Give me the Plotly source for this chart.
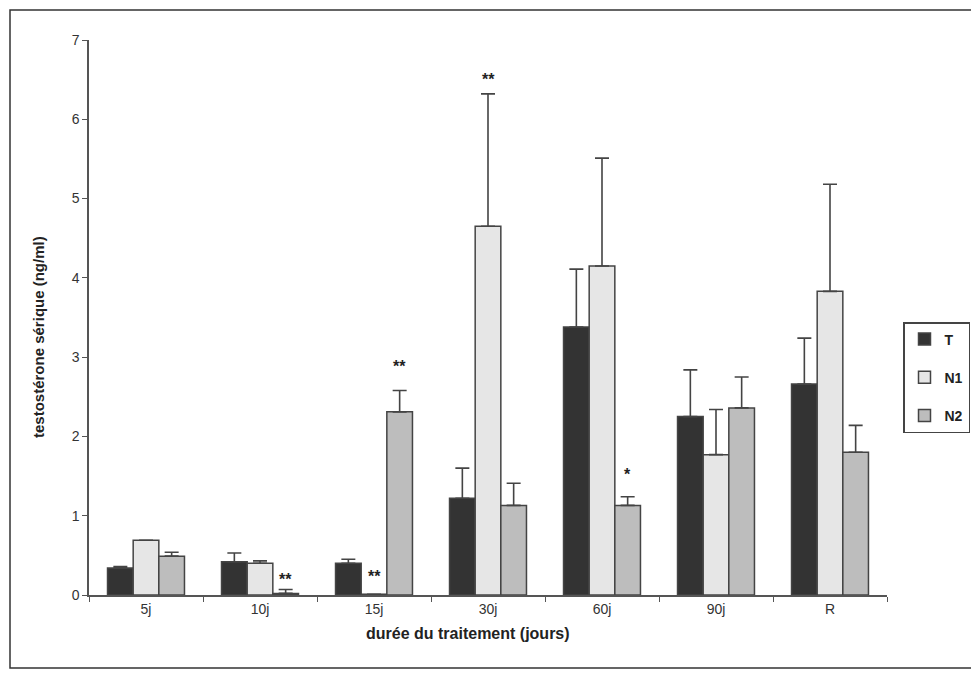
import plotly.graph_objects as go

categories = ["5j", "10j", "15j", "30j", "60j", "90j", "R"]
series_names = ["T", "N1", "N2"]
T_values = [0.34, 0.42, 0.40, 1.22, 3.38, 2.25, 2.66]
T_errors = [0.02, 0.11, 0.05, 0.38, 0.73, 0.59, 0.58]
N1_values = [0.69, 0.40, 0.01, 4.65, 4.15, 1.77, 3.83]
N1_errors = [0.0, 0.03, 0.0, 1.67, 1.36, 0.57, 1.35]
N2_values = [0.49, 0.02, 2.31, 1.13, 1.13, 2.36, 1.80]
N2_errors = [0.05, 0.05, 0.27, 0.28, 0.11, 0.39, 0.34]
colors = ["#333333", "#e6e6e6", "#bdbdbd"]

# significance marks: (category index, series index, y position, text)
sig_cat = [1, 2, 2, 3, 4]
sig_series = [2, 1, 2, 1, 2]
sig_y = [0.19, 0.23, 2.88, 6.5, 1.52]
sig_text = ["**", "**", "**", "**", "*"]

values = [T_values, N1_values, N2_values]
errors = [T_errors, N1_errors, N2_errors]

# page offset (body margin) compensation
OFF = 8
W, H = 979 - OFF, 679 - OFF
PL, PR, PT, PB = 89, 887, 40, 595  # plot area in page pixels
pw, ph = PR - PL, PB - PT

def px(x):
    return (x - PL) / pw

def py(y):
    return (PB - y) / ph

fig = go.Figure()
for i, name in enumerate(series_names):
    fig.add_trace(go.Bar(
        x=categories, y=values[i], name=name,
        legendgroup=name,
        marker=dict(color=colors[i], line=dict(color="#444444", width=1.5)),
        error_y=dict(type="data", array=errors[i], arrayminus=[0]*len(categories),
                     symmetric=False, color="#444444", thickness=1.6, width=7),
    ))

bargap = 0.325
bw = (1 - bargap) / 3
for c, s, y, t in zip(sig_cat, sig_series, sig_y, sig_text):
    fig.add_annotation(x=c + (s - 1) * bw, y=y, text="<b>" + t + "</b>", showarrow=False,
                       xref="x", yref="y", xanchor="center", yanchor="middle",
                       font=dict(family="Arial, Liberation Sans", size=16, color="#222222"))

fig.add_annotation(text="<b>testostérone sérique (ng/ml)</b>", textangle=-90,
                   xref="paper", yref="paper", x=px(38), y=py(337),
                   xanchor="center", yanchor="middle", showarrow=False,
                   font=dict(family="Arial, Liberation Sans", size=15, color="#222222"))
fig.add_annotation(text="<b>durée du traitement (jours)</b>",
                   xref="paper", yref="paper", x=px(468), y=py(633),
                   xanchor="center", yanchor="middle", showarrow=False,
                   font=dict(family="Arial, Liberation Sans", size=16, color="#222222"))

fig.add_shape(type="rect", xref="paper", yref="paper",
              x0=px(10), x1=px(976), y0=py(668), y1=py(10),
              line=dict(color="#333333", width=1.5), fillcolor="rgba(0,0,0,0)")

fig.update_layout(
    width=W, height=H,
    margin=dict(l=PL - OFF, r=W - (PR - OFF), t=PT - OFF, b=H - (PB - OFF),
                autoexpand=False),
    paper_bgcolor="white", plot_bgcolor="white",
    barmode="group", bargap=bargap, bargroupgap=0,
    showlegend=True,
    legend=dict(x=px(903), y=py(322), xanchor="left", yanchor="top",
                bordercolor="#444444", borderwidth=1.5, bgcolor="white",
                traceorder="grouped", tracegroupgap=17,
                font=dict(family="Arial, Liberation Sans", size=14, color="#222222",
                          weight="bold"),
                title=None),
    font=dict(family="Arial, Liberation Sans", color="#333333"),
)
fig.update_xaxes(showline=True, linecolor="#555555", linewidth=1.5,
                 ticks="outside", tickson="boundaries", ticklen=5, tickcolor="#555555",
                 tickfont=dict(size=14, color="#333333"), showgrid=False)
fig.update_yaxes(range=[0, 7], dtick=1, showline=True, linecolor="#555555", linewidth=1.5,
                 ticks="outside", ticklen=5, tickcolor="#555555",
                 tickfont=dict(size=14, color="#333333"), showgrid=False, zeroline=False)

fig.write_html("out.html")
